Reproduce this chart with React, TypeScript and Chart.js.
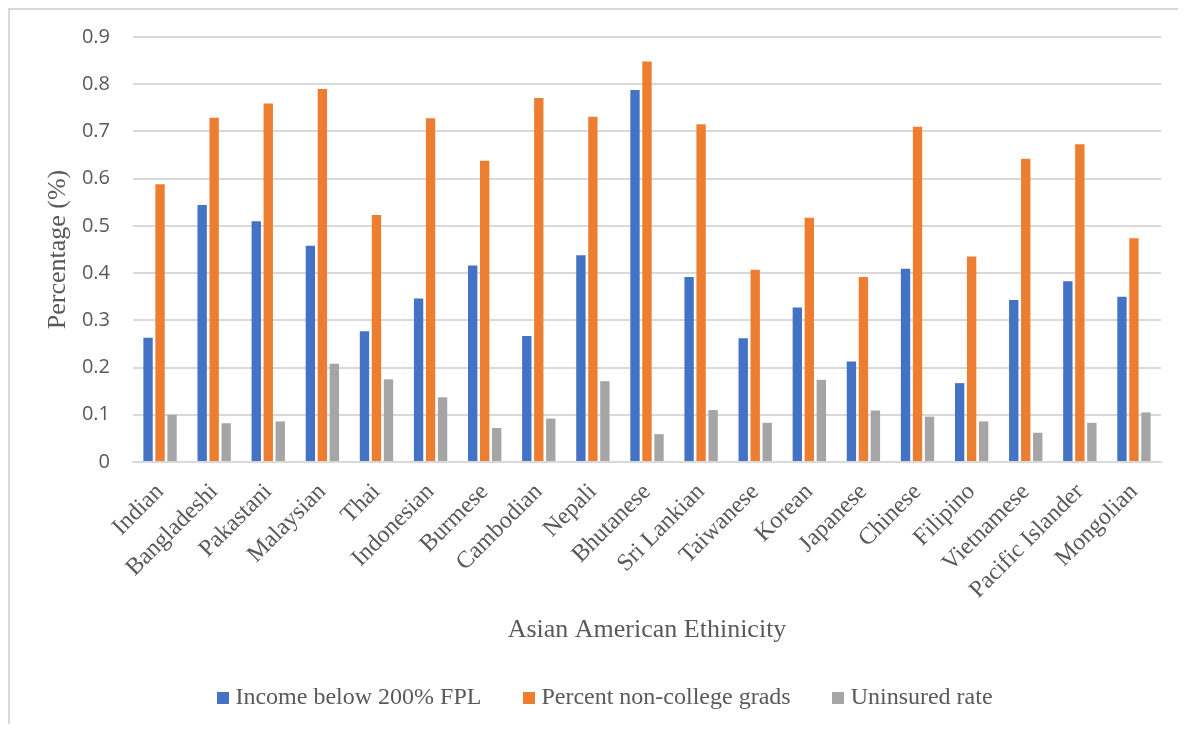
import React, { useEffect, useRef } from "react";
import { Chart, registerables } from "chart.js";

Chart.register(...registerables);

// Ethnic groups along the horizontal axis
const categories = [
  "Indian",
  "Bangladeshi",
  "Pakastani",
  "Malaysian",
  "Thai",
  "Indonesian",
  "Burmese",
  "Cambodian",
  "Nepali",
  "Bhutanese",
  "Sri Lankian",
  "Taiwanese",
  "Korean",
  "Japanese",
  "Chinese",
  "Filipino",
  "Vietnamese",
  "Pacific Islander",
  "Mongolian",
];

// Share of households with income below 200% of the federal poverty level
const incomeBelow200FPL = [
  0.263, 0.544, 0.51, 0.458, 0.277, 0.346, 0.416, 0.267, 0.438, 0.788, 0.392,
  0.262, 0.327, 0.213, 0.409, 0.167, 0.343, 0.383, 0.35,
];

// Share of adults without a college degree
const nonCollegeGrads = [
  0.588, 0.729, 0.759, 0.79, 0.523, 0.728, 0.638, 0.771, 0.731, 0.848, 0.715,
  0.407, 0.517, 0.392, 0.71, 0.435, 0.642, 0.673, 0.474,
];

// Share without health insurance
const uninsuredRate = [
  0.1, 0.082, 0.086, 0.208, 0.175, 0.137, 0.072, 0.092, 0.171, 0.059, 0.11,
  0.083, 0.174, 0.109, 0.096, 0.086, 0.062, 0.083, 0.105,
];

const seriesNames = [
  "Income below 200% FPL",
  "Percent non-college grads",
  "Uninsured rate",
];
const seriesColors = ["#4472C4", "#ED7D31", "#A5A5A5"];

const yMin = 0;
const yMax = 0.9;
const yStep = 0.1;

const TEXT = "#595959";
const GRID = "#d9d9d9";
const SERIF = "'Liberation Serif', 'Times New Roman', serif";
const SANS = "'Open Sans', 'DejaVu Sans', sans-serif";

// Small filled square used as the legend marker
function swatch(color: string): HTMLCanvasElement {
  const c = document.createElement("canvas");
  c.width = 12;
  c.height = 12;
  const g = c.getContext("2d");
  if (g) {
    g.fillStyle = color;
    g.fillRect(0, 0, 12, 12);
  }
  return c;
}

export default function App() {
  const canvasRef = useRef<HTMLCanvasElement | null>(null);

  useEffect(() => {
    const canvas = canvasRef.current;
    if (!canvas) return;
    const seriesValues = [incomeBelow200FPL, nonCollegeGrads, uninsuredRate];

    const chart = new Chart(canvas, {
      type: "bar",
      data: {
        labels: categories,
        datasets: seriesValues.map((values, i) => ({
          label: seriesNames[i],
          data: values,
          backgroundColor: seriesColors[i],
          borderWidth: 0,
          categoryPercentage: 0.665,
          barPercentage: 0.78,
        })),
      },
      options: {
        responsive: false,
        animation: false,
        devicePixelRatio: 1,
        layout: { padding: { left: 46, right: 25, top: 29, bottom: 0 } },
        plugins: {
          tooltip: { enabled: false },
          legend: {
            position: "bottom",
            labels: {
              usePointStyle: true,
              pointStyleWidth: 1,
              padding: 47,
              color: TEXT,
              font: { family: SERIF, size: 24 },
              generateLabels: (c: any) =>
                c.data.datasets.map((ds: any, i: number) => ({
                  text: ds.label,
                  fillStyle: ds.backgroundColor,
                  strokeStyle: ds.backgroundColor,
                  lineWidth: 0,
                  pointStyle: swatch(ds.backgroundColor),
                  fontColor: TEXT,
                  hidden: false,
                  datasetIndex: i,
                })),
            },
          },
        },
        scales: {
          x: {
            grid: { display: false, drawTicks: false },
            border: { display: true, color: GRID, width: 2 },
            ticks: {
              autoSkip: false,
              minRotation: 45,
              maxRotation: 45,
              padding: 16,
              color: TEXT,
              font: { family: SERIF, size: 24 },
            },
            title: {
              display: true,
              text: "Asian American Ethinicity",
              color: TEXT,
              font: { family: SERIF, size: 26, lineHeight: 1.2 },
              padding: { top: 0, bottom: -6.4 },
            },
            afterFit: (scale: any) => {
              scale.height = 177;
            },
          },
          y: {
            min: yMin,
            max: yMax,
            grid: {
              color: GRID,
              lineWidth: 2,
              drawTicks: true,
              tickLength: 23,
              tickColor: "rgba(0,0,0,0)",
            },
            border: { display: false },
            ticks: {
              stepSize: yStep,
              padding: 0,
              color: TEXT,
              font: { family: SANS, size: 20 },
              callback: (v: any) => (Number(v) === 0 ? "0" : Number(v).toFixed(1)),
            },
            title: {
              display: true,
              text: "Percentage (%)",
              color: TEXT,
              font: { family: SERIF, size: 26, lineHeight: 1.2 },
              padding: { top: -11.6, bottom: 0 },
            },
            afterFit: (scale: any) => {
              scale.width = 79;
            },
          },
        },
      },
    } as any);

    return () => chart.destroy();
  }, []);

  return (
    <div
      style={{
        position: "relative",
        width: 1178,
        height: 724,
        marginBottom: -8,
        overflow: "hidden",
        background: "#fff",
      }}
    >
      <div
        style={{
          position: "absolute",
          left: 0,
          top: 0,
          width: 1300,
          height: 900,
          border: `2px solid ${GRID}`,
        }}
      />
      <canvas
        ref={canvasRef}
        width={1178}
        height={712}
        style={{ position: "absolute", left: 0, top: 0, width: 1178, height: 712 }}
      />
    </div>
  );
}
